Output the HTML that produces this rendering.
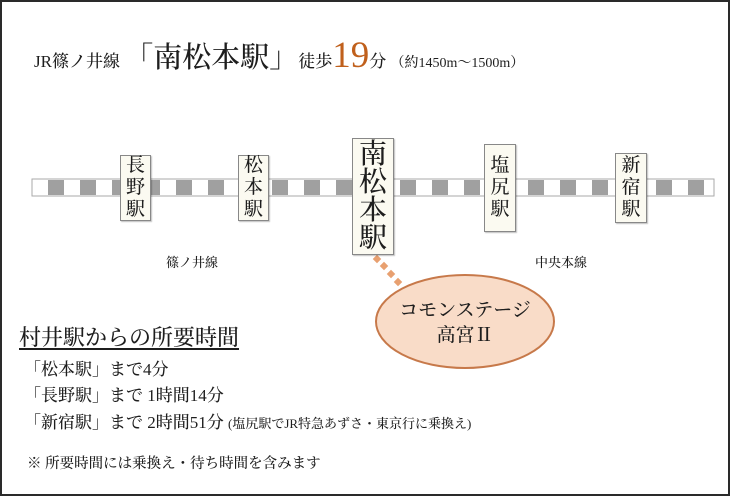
<!DOCTYPE html>
<html><head><meta charset="utf-8"><style>
html,body{margin:0;padding:0}
body{width:730px;height:496px;position:relative;overflow:hidden;background:#fff;font-family:"Liberation Serif","Noto Serif CJK SC","Noto Serif CJK JP",serif;color:#1e1e1e}
.frame{position:absolute;left:0;top:0;width:726px;height:492px;border:2px solid #2a2a2a}
.a{position:absolute;white-space:nowrap;font-weight:500}
.st{position:absolute;background:#fbfaf1;border:1px solid #888;box-shadow:1px 1px 1px rgba(0,0,0,.25);display:flex;flex-direction:column;align-items:center;justify-content:center;font-size:19px;line-height:22px;color:#1e1e1e;font-weight:500}
</style></head><body>
<div class="frame"></div>
<svg class="a" style="left:0;top:0" width="730" height="496">
<rect x="32" y="179" width="682" height="17" fill="#fff" stroke="#aaa" stroke-width="1"/>
<g fill="#a0a0a0">
<rect x="48" y="180" width="16" height="15"/><rect x="80" y="180" width="16" height="15"/><rect x="112" y="180" width="16" height="15"/><rect x="144" y="180" width="16" height="15"/><rect x="176" y="180" width="16" height="15"/><rect x="208" y="180" width="16" height="15"/><rect x="240" y="180" width="16" height="15"/><rect x="272" y="180" width="16" height="15"/><rect x="304" y="180" width="16" height="15"/><rect x="336" y="180" width="16" height="15"/><rect x="368" y="180" width="16" height="15"/><rect x="400" y="180" width="16" height="15"/><rect x="432" y="180" width="16" height="15"/><rect x="464" y="180" width="16" height="15"/><rect x="496" y="180" width="16" height="15"/><rect x="528" y="180" width="16" height="15"/><rect x="560" y="180" width="16" height="15"/><rect x="592" y="180" width="16" height="15"/><rect x="624" y="180" width="16" height="15"/><rect x="656" y="180" width="16" height="15"/><rect x="688" y="180" width="16" height="15"/>
</g>
<g fill="#e8a070">
<rect x="374" y="256" width="6" height="6" transform="rotate(45 377 259)"/>
<rect x="381" y="263" width="6" height="6" transform="rotate(45 384 266)"/>
<rect x="388" y="271" width="6" height="6" transform="rotate(45 391 274)"/>
<rect x="395" y="279" width="6" height="6" transform="rotate(45 398 282)"/>
</g>
<ellipse cx="465" cy="321.5" rx="89" ry="46.5" fill="#f9dcc8" stroke="#c7794a" stroke-width="2"/>
</svg>
<div class="a" style="left:34px;top:40px;font-size:17px;line-height:32px">JR篠ノ井線 <span style="font-size:29px">「南松本駅」</span>徒歩<span style="font-size:37px;color:#c0601c">19</span>分 <span style="font-size:14px">（約1450m～1500m）</span></div>
<div class="st" style="left:120px;top:155px;width:29px;height:64px">長<br>野<br>駅</div>
<div class="st" style="left:238px;top:155px;width:29px;height:64px">松<br>本<br>駅</div>
<div class="st" style="left:352px;top:138px;width:40px;height:115px;font-size:28px;line-height:28px">南<br>松<br>本<br>駅</div>
<div class="st" style="left:484px;top:144px;width:30px;height:86px">塩<br>尻<br>駅</div>
<div class="st" style="left:615px;top:153px;width:30px;height:68px">新<br>宿<br>駅</div>
<div class="a" style="left:166px;top:252px;font-size:13px">篠ノ井線</div>
<div class="a" style="left:535px;top:252px;font-size:13px">中央本線</div>
<div class="a" style="left:376px;top:298px;width:178px;text-align:center;font-size:19px;line-height:25px">コモンステージ<br>高宮Ⅱ</div>
<div class="a" style="left:19px;top:321px;font-size:22px;text-decoration:underline;text-underline-offset:3px">村井駅からの所要時間</div>
<div class="a" style="left:24px;top:357px;font-size:17px;line-height:26px">「松本駅」まで4分</div>
<div class="a" style="left:24px;top:383px;font-size:17px;line-height:26px">「長野駅」まで 1時間14分</div>
<div class="a" style="left:24px;top:410px;font-size:17px;line-height:26px">「新宿駅」まで 2時間51分 <span style="font-size:13px">(塩尻駅でJR特急あずさ・東京行に乗換え)</span></div>
<div class="a" style="left:27px;top:453px;font-size:14.5px;line-height:22px">※ 所要時間には乗換え・待ち時間を含みます</div>
</body></html>
